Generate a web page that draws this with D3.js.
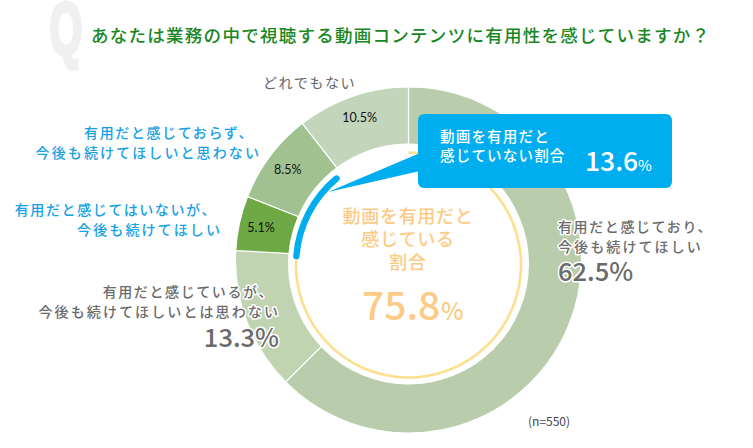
<!DOCTYPE html>
<html><head><meta charset="utf-8">
<script src="https://cdn.jsdelivr.net/npm/d3@7/dist/d3.min.js"></script>
<style>html,body{margin:0;background:#fff}svg{display:block}text{font-family:"Noto Sans CJK JP","Noto Sans",sans-serif}</style>
</head><body><svg id="c" width="753" height="448"></svg>
<script>
const categories = ["有用だと感じており、今後も続けてほしい","有用だと感じているが、今後も続けてほしいとは思わない","有用だと感じてはいないが、今後も続けてほしい","有用だと感じておらず、今後も続けてほしいと思わない","どれでもない"];
const values = [62.5,13.3,5.1,8.5,10.5];
const sliceColors = ["#b9ccab","#c0d4b2","#6fa945","#a1c190","#c3d6bc"];
const usefulShare = [75.8];
const notUsefulShare = [13.6];
const title = "あなたは業務の中で視聴する動画コンテンツに有用性を感じていますか？";

const svg = d3.select("#c");
const cx=408.5,cy=260,R=173,rRing=112.5;
const g = svg.append("g").attr("transform",`translate(${cx},${cy})`);

// Q watermark
svg.append("text").text("Q").attr("transform","translate(49.5,54) scale(0.68,1.2)")
  .attr("font-size",62).attr("font-weight",700).attr("fill","#f0f0f0").attr("stroke","#f0f0f0").attr("stroke-width",3.5)
  .style("font-family","'Liberation Sans Narrow',sans-serif");

svg.append("text").text(title).attr("x",91).attr("y",42).attr("font-size",17.5)
  .attr("font-weight",500).attr("letter-spacing",1.27).attr("fill","#17871f");

// ring
const pie = d3.pie().value(d=>d).sort(null);
const arcs = pie(values);
const arc = d3.arc().innerRadius(100).outerRadius(R);
g.selectAll("path.s").data(arcs).join("path").attr("class","s")
  .attr("d",arc).attr("fill",(d,i)=>sliceColors[i]).attr("stroke","#fff").attr("stroke-width",1.2);
// white centre hole, sits slightly below the ring centre
svg.append("circle").attr("cx",cx).attr("cy",264).attr("r",120.5).attr("fill","#fff");

const inner = svg.append("g").attr("transform",`translate(${cx},265)`);
const angle = d3.scaleLinear().domain([0,100]).range([0,2*Math.PI]);
// inner yellow ring
inner.append("path").attr("d",d3.arc().innerRadius(rRing-1.3).outerRadius(rRing+1.3)
   .startAngle(angle(0)).endAngle(angle(usefulShare[0]))()).attr("fill","#fddf8e");
// blue arc
inner.append("path").attr("d",d3.arc().innerRadius(rRing-3.2).outerRadius(rRing+3.2).cornerRadius(3.2)
   .startAngle(angle(usefulShare[0])).endAngle(angle(usefulShare[0]+notUsefulShare[0]))()).attr("fill","#00aeef");

// percent labels on small slices
const labelArc = d3.arc().innerRadius(151).outerRadius(151);
g.selectAll("text.p").data(arcs.slice(2)).join("text").attr("class","p")
  .attr("transform",d=>`translate(${labelArc.centroid(d)})`)
  .attr("text-anchor","middle").attr("dy","0.35em").attr("font-size",12.5).attr("fill","#111")
  .style("font-family","Lato,sans-serif").text(d=>d.data.toFixed(1)+"%");

// callout
svg.append("path").attr("d","M328,192L420,153L420,171Z").attr("fill","#00aeef");
svg.append("rect").attr("x",418).attr("y",114).attr("width",254).attr("height",74).attr("rx",6).attr("fill","#00aeef");

function label(x,y,txt,o){
  const t=svg.append("text").text(txt).attr("x",x).attr("y",y)
    .attr("font-size",o.size).attr("fill",o.fill).attr("text-anchor",o.anchor||"start")
    .attr("font-weight",o.weight||400).attr("letter-spacing",o.ls||0);
  if(o.halo) t.attr("stroke","#fff").attr("stroke-width",o.halo).attr("paint-order","stroke").attr("stroke-linejoin","round");
  return t;
}
const white={size:14.6,fill:"#fff",weight:500,ls:1.1};
label(440,142,"動画を有用だと",white);
label(440,161,"感じていない割合",white);
label(585,171,notUsefulShare[0].toFixed(1),{size:26.5,fill:"#fff",weight:500});
label(638,171,"%",{size:15,fill:"#fff"});

const blue={size:14,fill:"#17a0e6",weight:500,ls:1.6,anchor:"end"};
const blueWide=Object.assign({},blue,{ls:2.1});
label(254,138,"有用だと感じておらず、",blue);
label(261,158,"今後も続けてほしいと思わない",blueWide);
label(217,215,"有用だと感じてはいないが、",blue);
label(222,235,"今後も続けてほしい",blueWide);

const grey={size:14,fill:"#6b6b6b",weight:500,ls:1.6,halo:3};
const greyWide=Object.assign({},grey,{ls:2.1});
label(558,232,"有用だと感じており、",grey);
label(558,252,"今後も続けてほしい",greyWide);
label(558,281,values[0].toFixed(1)+"%",{size:25.5,fill:"#6b6b6b",weight:500,halo:3});
label(274,297,"有用だと感じているが、",Object.assign({},grey,{anchor:"end"}));
label(280,317,"今後も続けてほしいとは思わない",Object.assign({},greyWide,{anchor:"end"}));
label(279,347,values[1].toFixed(1)+"%",{size:25.5,fill:"#6b6b6b",weight:500,anchor:"end",halo:3});
label(263,88,"どれでもない",{size:14.2,fill:"#666",ls:1.4});
label(528,426,"(n=550)",{size:12,fill:"#444"});

// centre text
const orange={size:18,fill:"#fdcb85",weight:500,ls:0.7,anchor:"middle"};
label(408,223,"動画を有用だと",orange);
label(408,246,"感じている",orange);
label(408,269,"割合",orange);
label(362,320,usefulShare[0].toFixed(1),{size:39,fill:"#fdcb85",weight:500});
label(441,320,"%",{size:24,fill:"#fdcb85",weight:500});
</script></body></html>
